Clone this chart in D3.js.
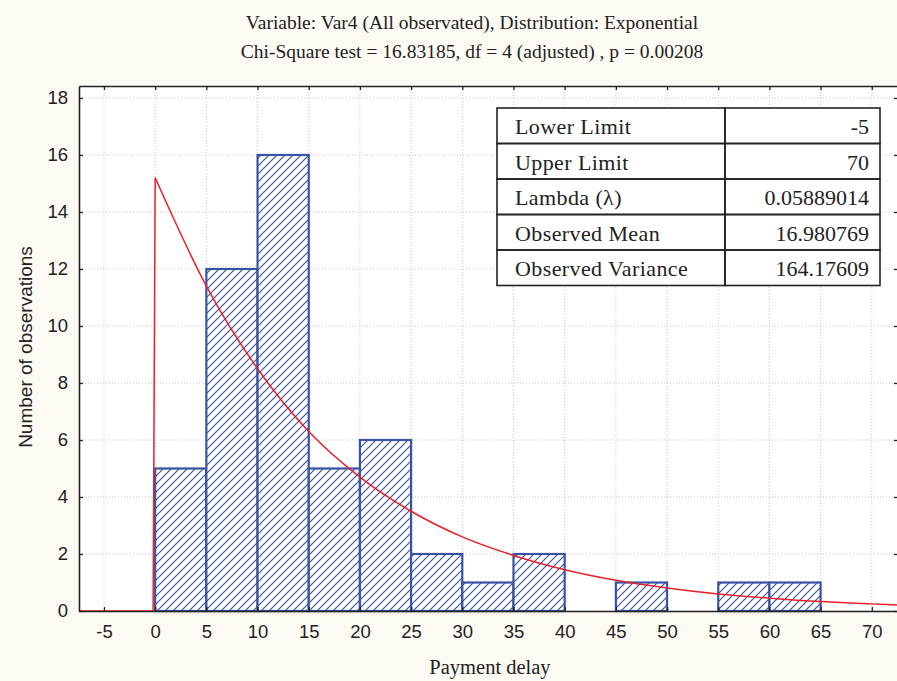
<!DOCTYPE html>
<html>
<head>
<meta charset="utf-8">
<script src="https://cdn.jsdelivr.net/npm/d3@7"></script>
<style>
  body { margin: 0; background: #fdfaf3; }
  svg { display: block; }
</style>
</head>
<body>
<div id="chart"></div>
<script>
// bins (lower edge, width 5) and counts
const binStarts = [0, 5, 10, 15, 20, 25, 30, 35, 40, 45, 50, 55, 60];
const binCounts = [5, 12, 16, 5, 6, 2, 1, 2, 0, 1, 0, 1, 1];
const binWidth = 5;

// fitted exponential curve
const curveX = [0, 5, 10, 15, 20, 25, 30, 35, 40, 45, 50, 55, 60, 65, 70, 72.6];
const curveY = [15.2, 11.4, 8.5, 6.3, 4.7, 3.5, 2.6, 1.95, 1.45, 1.08, 0.81, 0.6, 0.45, 0.33, 0.25, 0.21];

const xTicks = [-5, 0, 5, 10, 15, 20, 25, 30, 35, 40, 45, 50, 55, 60, 65, 70];
const yTicks = [0, 2, 4, 6, 8, 10, 12, 14, 16, 18];

const tableLabels = ["Lower Limit", "Upper Limit", "Lambda (\u03bb)", "Observed Mean", "Observed Variance"];
const tableValues = ["-5", "70", "0.05889014", "16.980769", "164.17609"];

const titleLines = [
    "Variable: Var4 (All observated), Distribution: Exponential",
    "Chi-Square test = 16.83185, df = 4 (adjusted) , p = 0.00208"
];

const W = 897, H = 681;
const pLeft = 79, pRight = 898, pTop = 86, pBottom = 611;
const blue = "#3a54a4";
const serif = "Liberation Serif, Times New Roman, serif";
const sans = "Liberation Sans, Arial, sans-serif";

const svg = d3.select("#chart").append("svg")
    .attr("width", W).attr("height", H);

svg.append("rect").attr("width", W).attr("height", H).attr("fill", "#fdfaf3");

const x = d3.scaleLinear().domain([-7.44, 72.56]).range([pLeft, pRight]);
const y = d3.scaleLinear().domain([0, 18.42]).range([pBottom, pTop]);

// hatch
const defs = svg.append("defs");
const pat = defs.append("pattern")
    .attr("id", "hatch")
    .attr("patternUnits", "userSpaceOnUse")
    .attr("width", 8).attr("height", 8);
pat.append("rect").attr("width", 8).attr("height", 8).attr("fill", "white");
pat.append("path")
    .attr("d", "M-1,1 l2,-2 M0,8 l8,-8 M7,9 l2,-2")
    .attr("stroke", blue).attr("stroke-width", 1.2);

defs.append("clipPath").attr("id", "plotclip")
    .append("rect").attr("x", pLeft).attr("y", pTop)
    .attr("width", pRight - pLeft).attr("height", pBottom - pTop);

// plot background
svg.append("rect")
    .attr("x", pLeft).attr("y", pTop)
    .attr("width", pRight - pLeft).attr("height", pBottom - pTop)
    .attr("fill", "white");

// grid
const grid = svg.append("g").attr("stroke", "#c4c4c4").attr("stroke-dasharray", "1,2");
grid.selectAll(".gx").data(xTicks).enter().append("line")
    .attr("x1", d => x(d)).attr("x2", d => x(d))
    .attr("y1", pTop).attr("y2", pBottom);
grid.selectAll(".gy").data(yTicks).enter().append("line")
    .attr("x1", pLeft).attr("x2", pRight)
    .attr("y1", d => y(d)).attr("y2", d => y(d));

// title
svg.append("g").selectAll("text").data(titleLines).enter().append("text")
    .attr("x", 472).attr("y", (d, i) => 29 + i * 29)
    .attr("text-anchor", "middle")
    .attr("font-family", serif)
    .attr("font-size", 19.5).attr("fill", "#222")
    .text(d => d);

// bars
svg.append("g").selectAll("rect").data(binStarts.map((s, i) => ({ s, c: binCounts[i] })).filter(d => d.c > 0))
    .enter().append("rect")
    .attr("x", d => x(d.s))
    .attr("y", d => y(d.c))
    .attr("width", d => x(d.s + binWidth) - x(d.s))
    .attr("height", d => y(0) - y(d.c))
    .attr("fill", "url(#hatch)")
    .attr("stroke", blue).attr("stroke-width", 2.2);

// red curve
const cg = svg.append("g").attr("clip-path", "url(#plotclip)");
const line = d3.line().x(d => x(d[0])).y(d => y(d[1]));
cg.append("path")
    .datum([[-7.44, 0], [-0.2, 0], [0, curveY[0]]])
    .attr("d", line)
    .attr("fill", "none").attr("stroke", "#e8202a").attr("stroke-width", 1.5);
cg.append("path")
    .datum(curveX.map((v, i) => [v, curveY[i]]))
    .attr("d", line.curve(d3.curveMonotoneX))
    .attr("fill", "none").attr("stroke", "#e8202a").attr("stroke-width", 1.5);

// axes
const bx = svg.append("g").attr("transform", `translate(0,${pBottom})`)
    .call(d3.axisBottom(x).tickValues(xTicks).tickSize(-4).tickPadding(14).tickSizeOuter(0).tickFormat(d => String(d)));
const tx = svg.append("g").attr("transform", `translate(0,${pTop})`)
    .call(d3.axisTop(x).tickValues(xTicks).tickSize(-4).tickSizeOuter(0).tickFormat(""));
const ly = svg.append("g").attr("transform", `translate(${pLeft},0)`)
    .call(d3.axisLeft(y).tickValues(yTicks).tickSize(-4).tickPadding(11).tickSizeOuter(0));
const ry = svg.append("g").attr("transform", `translate(${pRight},0)`)
    .call(d3.axisRight(y).tickValues(yTicks).tickSize(-4).tickSizeOuter(0).tickFormat(""));

[bx, tx, ly, ry].forEach(g => {
    g.select(".domain").attr("stroke", "#222").attr("stroke-width", 1.6);
    g.selectAll(".tick line").attr("stroke", "#222").attr("stroke-width", 1.3);
    g.selectAll(".tick text").attr("font-family", sans).attr("font-size", 18.5).attr("fill", "#222");
});

// axis labels
svg.append("text")
    .attr("x", 490).attr("y", 674)
    .attr("text-anchor", "middle")
    .attr("font-family", serif)
    .attr("font-size", 20.5).attr("fill", "#222")
    .text("Payment delay");

svg.append("text")
    .attr("transform", "translate(32,347) rotate(-90)")
    .attr("text-anchor", "middle")
    .attr("font-family", sans)
    .attr("font-size", 19).attr("fill", "#222")
    .text("Number of observations");

// parameter table
const tx0 = 497, tx1 = 725, tx2 = 880, ty0 = 108, rowH = 35.5;
const table = svg.append("g");
table.append("rect")
    .attr("x", tx0).attr("y", ty0)
    .attr("width", tx2 - tx0).attr("height", rowH * tableLabels.length)
    .attr("fill", "white");
const rows = table.selectAll(".row").data(tableLabels).enter().append("g");
rows.append("rect")
    .attr("x", tx0).attr("y", (d, i) => ty0 + i * rowH)
    .attr("width", tx1 - tx0).attr("height", rowH)
    .attr("fill", "none").attr("stroke", "#222").attr("stroke-width", 1.6);
rows.append("rect")
    .attr("x", tx1).attr("y", (d, i) => ty0 + i * rowH)
    .attr("width", tx2 - tx1).attr("height", rowH)
    .attr("fill", "none").attr("stroke", "#222").attr("stroke-width", 1.6);
rows.append("text")
    .attr("x", tx0 + 18).attr("y", (d, i) => ty0 + i * rowH + 26)
    .attr("font-family", serif)
    .attr("font-size", 22).attr("letter-spacing", 0.4).attr("fill", "#222")
    .text(d => d);
rows.append("text")
    .attr("x", tx2 - 11).attr("y", (d, i) => ty0 + i * rowH + 26)
    .attr("text-anchor", "end")
    .attr("font-family", serif)
    .attr("font-size", 22).attr("fill", "#222")
    .text((d, i) => tableValues[i]);
</script>
</body>
</html>
